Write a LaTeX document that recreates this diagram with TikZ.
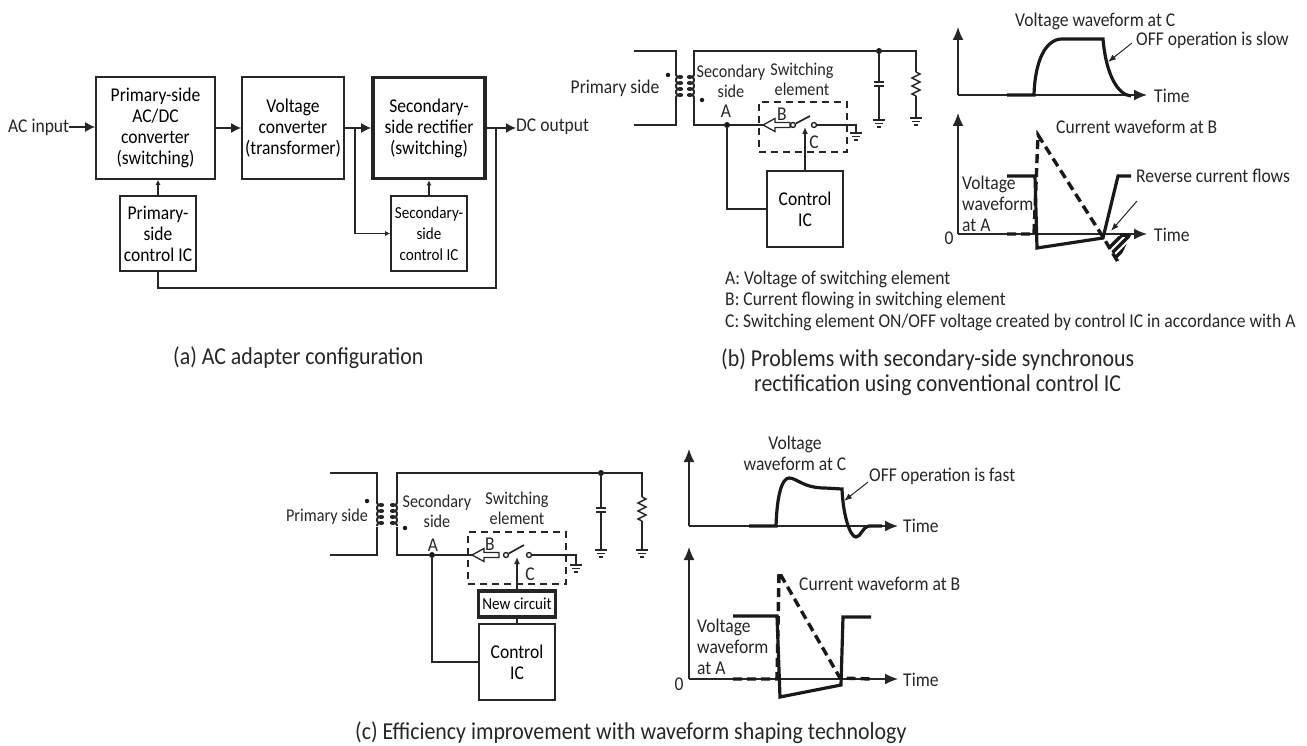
\documentclass[tikz,border=0pt]{standalone}
\usepackage{fontspec}
\setmainfont[FakeStretch=0.9]{Carlito}
\usetikzlibrary{arrows.meta}

\tikzset{
  wire/.style={line width=1.5pt, draw=black!85},
  wave/.style={line width=3.2pt, draw=black!90},
  dwave/.style={line width=3.4pt, draw=black!90, dash pattern=on 9pt off 5pt},
  bigarrow/.style={wire, -{Latex[length=10pt,width=10pt]}},
  smallarrow/.style={wire, -{Latex[length=5pt,width=5pt]}},
  point/.style={line width=1pt, draw=black!85, -{Latex[length=8pt,width=6pt]}},
  block/.style={draw=black!85, line width=1.6pt, inner sep=0pt, align=center},
  hollow/.style={draw=black!85, line width=1.3pt, fill=white},
  swbox/.style={block, line width=1.5pt, dash pattern=on 7pt off 5pt},
  txt/.style={inner sep=0pt, align=center, text=black!85},
  ltxt/.style={inner sep=0pt, align=left, anchor=west, text=black!85},
  smalltxt/.style={font=\fontsize{16.8}{21}\selectfont},
  midtxt/.style={font=\fontsize{18}{20}\selectfont},
  captxt/.style={font=\fontsize{24.3}{26}\selectfont},
  junction/.style={circle, fill=black!90, inner sep=0pt, minimum size=6pt},
  tdot/.style={circle, fill=black!90, inner sep=0pt, minimum size=4.5pt},
  contact/.style={circle, draw=black!90, fill=white, line width=1.3pt, inner sep=0pt, minimum size=5pt},
  pics/gnd/.style={code={
    \draw[wire] (-6,0) -- (6,0);
    \draw[wire] (-4,3.5) -- (4,3.5);
    \draw[wire] (-2,7) -- (2,7);
  }},
  pics/coil/.style={code={
    \draw[wire, line width=2pt] plot[domain=0:1440, samples=120, smooth] ({3-3*cos(\x)}, {\x/1440*24+2.2*sin(\x)});
  }},
  pics/res/.style={code={
    \draw[wire] (0,0) -- (4,2) -- (-4,6) -- (4,10) -- (-4,14) -- (4,18) -- (-4,22) -- (0,24);
  }},
  pics/hcap/.style={code={
    \draw[wire, line width=2.4pt] (-5,0) -- (5,0);
    \draw[wire, line width=2.4pt] (-5,4) -- (5,4);
  }},
  pics/harrow/.style={code={
    \draw[hollow] (0,0) -- (12,-6.5) -- (12,-2.5) -- (27,-2.5) -- (27,2.5) -- (12,2.5) -- (12,6.5) -- cycle;
  }}
}

\begin{document}
\begin{tikzpicture}[x=1pt, y=-1pt, font=\fontsize{19.5}{21}\selectfont]
\useasboundingbox (0,0) rectangle (1307,746);

% (a)
\node[block, minimum width=119pt, minimum height=102pt] (conv) at (155.5,128) {Primary-side\\AC/DC\\converter\\(switching)};
\node[block, minimum width=102pt, minimum height=102pt] (trans) at (293,128) {Voltage\\converter\\(transformer)};
\node[block, line width=3.6pt, minimum width=112pt, minimum height=101pt] (rect) at (429,128) {Secondary-\\side rectifier\\(switching)};
\node[block, minimum width=76pt, minimum height=75pt] (ctrlP) at (158,233.5) {Primary-\\side\\control IC};
\node[block, smalltxt, minimum width=76pt, minimum height=75pt] (ctrlS) at (429,233.5) {Secondary-\\side\\control IC};
\node[ltxt] (acin) at (8,127) {AC input};
\node[ltxt] (dcout) at (516,127) {DC output};
\coordinate (split) at (355,128);
\coordinate (tap) at (496,128);

\draw[bigarrow] (acin.east) -- (conv.west |- acin.east);
\draw[bigarrow] (conv) -- (trans);
\draw[bigarrow] (trans) -- (rect);
\draw[bigarrow] (rect.east) -- (dcout.west |- rect.east);
\draw[smallarrow] (ctrlP.north) -- (ctrlP.north |- conv.south);
\draw[smallarrow] (ctrlS.north) -- (rect.south);
\draw[smallarrow] (split) |- (ctrlS.west);
\draw[wire] (tap) -- (496,288) -| (ctrlP.south);

\node[ltxt, captxt] (capA) at (173,358) {(a) AC adapter configuration};

% (b) circuit
\coordinate (pt1) at (634,51);
\coordinate (pb1) at (634,125);
\coordinate (st1) at (916,51);
\node[junction] (a1) at (727,125) {};
\node[junction] (j1) at (879,51) {};
\node[block, minimum width=76pt, minimum height=76pt] (ic1) at (805,209) {Control\\IC};
\node[swbox, minimum width=88pt, minimum height=50pt] (sw1) at (803,127) {};
\coordinate (g1) at (856,125);

\draw[wire] (pt1) -- (676,51) -- (676,75);
\draw[wire] (676,98) -- (676,125) -- (pb1);
\pic at (676,74) {coil};
\pic[xscale=-1] at (694,74) {coil};
\draw[wire] (694,75) -- (694,51) -- (st1) -- (916,72);
\draw[wire] (694,98) -- (694,125) -- (a1) -- (763,125);
\draw[wire] (a1) |- (ic1.west);
\draw[wire] (814,125) -- (g1) -- (856,133);
\pic at (856,133) {gnd};
\pic at (763,125) {harrow};
\node[contact] (c1a) at (793,125) {};
\node[contact] (c1b) at (814,125) {};
\draw[wire, line width=1.7pt] (c1a) -- (810,116);
\draw[wire, -{Latex[length=7pt,width=6pt]}] (ic1.north) -- (805,127);
\draw[wire] (j1) -- (879,82);
\draw[wire] (879,86) -- (879,120);
\pic at (879,82) {hcap};
\pic at (879,120) {gnd};
\pic at (916,72) {res};
\draw[wire] (916,96) -- (916,118);
\pic at (916,118) {gnd};
\node[tdot] (d1a) at (668,75) {};
\node[tdot] (d1b) at (702,100) {};

\node[txt] (lp1) at (615,88) {Primary side};
\node[txt, midtxt] (ls1) at (731,81) {Secondary\\side};
\node[txt, midtxt] (le1) at (802,79.5) {Switching\\element};
\node[txt] (la1) at (726,111) {A};
\node[txt] (lb1) at (782,114) {B};
\node[txt] (lc1) at (814,142) {C};

% (b) waveforms
\draw[wire, -{Latex[length=13pt,width=11pt]}] (958,95) -- (958,27);
\draw[wire, -{Latex[length=13pt,width=11pt]}] (958,95) -- (1147,95);
\draw[wave] (1007,95) -- (1034,95) .. controls (1035,60) and (1046,39) .. (1062,39) -- (1103,39) .. controls (1106,75) and (1118,95) .. (1131,96);
\draw[wire, -{Latex[length=13pt,width=11pt]}] (958,234) -- (958,113);
\draw[wire, -{Latex[length=13pt,width=11pt]}] (958,234) -- (1147,234);
\begin{scope}
\clip (1103,237) -- (1131,235) -- (1118,262) -- cycle;
\foreach \s in {0,8,...,48} \draw[line width=3.5pt, black!90] (1095+\s,262) -- (1125+\s,232);
\end{scope}
\draw[dwave] (1007,234) -- (1034,234) -- (1038,135) -- (1103,237) -- (1118,262);
\draw[dwave] (1120,235) -- (1133,235);
\draw[wave] (1007,176) -- (1035,176) -- (1037,248) -- (1103,238) -- (1118,176) -- (1131,176);
\coordinate (p1) at (1132,43);
\coordinate (p2) at (1137,201);
\draw[point] (p1) -- (1108,62);
\draw[point] (p2) -- (1111,231);

\node[ltxt] (lvc1) at (1015,21) {Voltage waveform at C};
\node[ltxt] (loff1) at (1136,40) {OFF operation is slow};
\node[ltxt] (lt1) at (1154,96) {Time};
\node[ltxt] (lib1) at (1056,127) {Current waveform at B};
\node[ltxt] (lrev1) at (1136,176) {Reverse current flows};
\node[ltxt] (lva1) at (962,204) {Voltage\\waveform\\at A};
\node[ltxt] (lt2) at (1154,235) {Time};
\node[txt] (lz1) at (949,238) {0};
\node[ltxt] (leg1) at (725,279) {A: Voltage of switching element};
\node[ltxt] (leg2) at (725,300) {B: Current flowing in switching element};
\node[ltxt] (leg3) at (725,322) {C: Switching element ON/OFF voltage created by control IC in accordance with A};
\node[ltxt, captxt] (capB1) at (721,360) {(b) Problems with secondary-side synchronous};
\node[ltxt, captxt] (capB2) at (754,385) {rectification using conventional control IC};

% (c) circuit
\coordinate (pt2) at (330,473);
\coordinate (pb2) at (330,555);
\coordinate (st2) at (642,473);
\node[junction] (a2) at (432,555) {};
\node[junction] (j2) at (601,473) {};
\node[block, minimum width=76pt, minimum height=76pt] (ic2) at (517,662) {Control\\IC};
\node[block, smalltxt, line width=3.2pt, minimum width=77pt, minimum height=26pt] (nc2) at (517,604) {New circuit};
\node[swbox, minimum width=98pt, minimum height=52pt] (sw2) at (517,558) {};
\coordinate (g2) at (576,555);

\draw[wire] (pt2) -- (377,473) -- (377,502);
\draw[wire] (377,527) -- (377,555) -- (pb2);
\pic at (377,502) {coil};
\pic[xscale=-1] at (397,502) {coil};
\draw[wire] (397,502) -- (397,473) -- (st2) -- (642,497);
\draw[wire] (397,527) -- (397,555) -- (a2) -- (472,555);
\draw[wire] (a2) |- (ic2.west);
\draw[wire] (529,555) -- (g2) -- (576,565);
\pic at (576,565) {gnd};
\pic at (472,555) {harrow};
\node[contact] (c2a) at (506,555) {};
\node[contact] (c2b) at (529,555) {};
\draw[wire, line width=1.7pt] (c2a) -- (524,545);
\draw[wire] (ic2.north) -- (nc2.south);
\draw[wire, line width=1.8pt, -{Latex[length=7pt,width=6pt]}] (nc2.north) -- (517,557);
\draw[wire] (j2) -- (601,508);
\draw[wire] (601,512) -- (601,550);
\pic at (601,508) {hcap};
\pic at (601,550) {gnd};
\pic at (642,497) {res};
\draw[wire] (642,521) -- (642,550);
\pic at (642,550) {gnd};
\node[tdot] (d2a) at (367,501) {};
\node[tdot] (d2b) at (405,528) {};

\node[txt, midtxt] (lp2) at (327,517) {Primary side};
\node[txt, midtxt] (ls2) at (437,511.5) {Secondary\\side};
\node[txt, midtxt] (le2) at (517,508.5) {Switching\\element};
\node[txt] (la2) at (433,545) {A};
\node[txt] (lb2) at (490,544) {B};
\node[txt] (lc2) at (530,574) {C};

% (c) waveforms
\draw[wire, -{Latex[length=13pt,width=11pt]}] (689,526) -- (689,449);
\draw[wire, -{Latex[length=13pt,width=11pt]}] (689,526) -- (898,526);
\draw[wave] (749,526) -- (776,526) .. controls (777,495) and (782,478) .. (789,478) .. controls (797,478) and (803,488) .. (825,488) -- (842,489) .. controls (843,515) and (850,537) .. (856,537) .. controls (861,537) and (863,526) .. (869,526) -- (882,526);
\draw[wire, -{Latex[length=13pt,width=11pt]}] (689,679) -- (689,547);
\draw[wire, -{Latex[length=13pt,width=11pt]}] (689,679) -- (898,679);
\draw[dwave] (733,679) -- (777,679) -- (779,572) -- (840,678) -- (871,679);
\draw[wave] (733,616) -- (777,616) -- (780,697) -- (841,685) -- (843,617) -- (871,617);
\coordinate (p3) at (868,482);
\draw[point] (p3) -- (844,501);

\node[txt] (lvc2) at (795,453.5) {Voltage\\waveform at C};
\node[ltxt] (loff2) at (869,476) {OFF operation is fast};
\node[ltxt] (lt3) at (903,526) {Time};
\node[ltxt] (lib2) at (799,584) {Current waveform at B};
\node[ltxt] (lva2) at (697,647) {Voltage\\waveform\\at A};
\node[ltxt] (lt4) at (903,680) {Time};
\node[txt] (lz2) at (679,684) {0};
\node[ltxt, captxt] (capC) at (355,733) {(c) Efficiency improvement with waveform shaping technology};
\end{tikzpicture}
\end{document}
